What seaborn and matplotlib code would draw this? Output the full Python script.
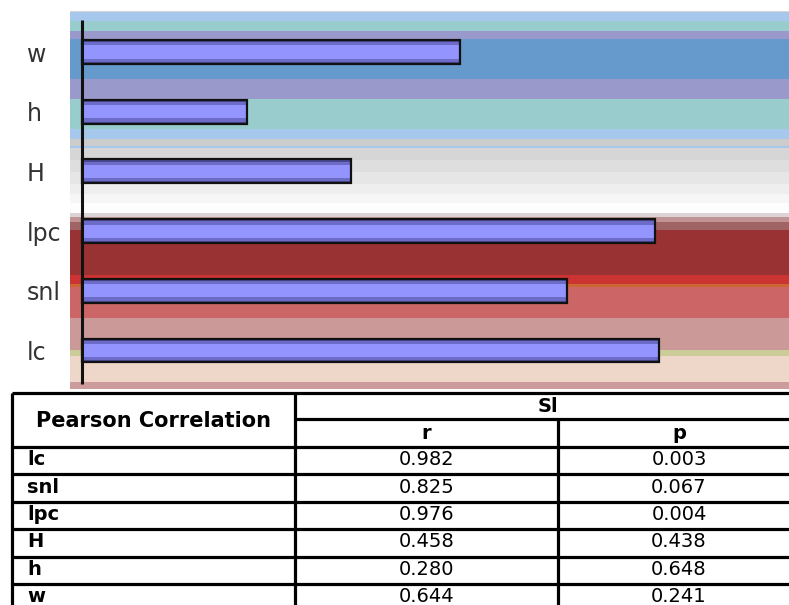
import matplotlib
matplotlib.use("Agg")
import matplotlib.pyplot as plt
import seaborn as sns

# --- dados ---
CATEGORIAS = ["w", "h", "H", "lpc", "snl", "lc"]
VALORES_R = [0.644, 0.280, 0.458, 0.976, 0.825, 0.982]
VALORES_P = [0.241, 0.648, 0.438, 0.004, 0.067, 0.003]
TITULO_TABELA = "Pearson Correlation"
GRUPO_TABELA = "Sl"
COLUNAS_TABELA = ["r", "p"]

# --- estilo ---
sns.set_theme(style="white")
plt.rcParams["font.family"] = ["DejaVu Sans"]
plt.rcParams["text.color"] = "black"

W, H = 789, 605
fig = plt.figure(figsize=(W / 100, H / 100), dpi=100)

# eixo do gráfico de barras (em pixels: x 70..789, y 11..389)
ax = fig.add_axes([70 / W, 1 - 389 / H, 1 - 70 / W, (389 - 11) / H])

# faixas de fundo (pixels da figura -> unidades de categoria)
def py(px):
    return (px - 52) / 59.7

faixas = [
    (11, 12, "#d4d4d4"), (12, 21, "#a6c8ec"), (21, 31, "#99cccc"),
    (31, 39, "#9999cc"), (39, 79, "#6699cc"), (79, 99, "#9999cc"),
    (99, 129, "#99cccc"), (129, 139, "#a6c8ec"), (139, 146, "#cccccc"),
    (146, 148, "#a6c8ec"), (148, 160, "#d6d6d6"), (160, 172, "#dedede"),
    (172, 184, "#e6e6e6"), (184, 194, "#eeeeee"), (194, 203, "#f6f6f6"),
    (203, 213, "#fdfdfd"), (213, 217, "#dcd4d4"), (217, 222, "#c09494"),
    (222, 230, "#a06464"), (230, 275, "#993333"), (275, 284, "#cc3333"),
    (284, 287, "#cc6633"), (287, 318, "#cc6666"), (318, 350, "#cc9999"),
    (350, 356, "#cccc99"), (356, 382, "#eed6c8"), (382, 389, "#cc9c9c"),
]
for topo, base, cor in faixas:
    ax.axhspan(py(topo), py(base), color=cor, lw=0, zorder=0)

# barras com efeito de gradiente (camadas)
sns.barplot(x=VALORES_R, y=CATEGORIAS, orient="h", color="#4a4a90",
            width=0.40, saturation=1, linewidth=0, ax=ax, zorder=2)
sns.barplot(x=VALORES_R, y=CATEGORIAS, orient="h", color="#6c6cc8",
            width=0.33, saturation=1, linewidth=0, ax=ax, zorder=3)
sns.barplot(x=VALORES_R, y=CATEGORIAS, orient="h", color="#9494ff",
            width=0.22, saturation=1, linewidth=0, ax=ax, zorder=4)
ax.barh(range(len(CATEGORIAS)), VALORES_R, height=0.40, fill=False,
        edgecolor="#111111", linewidth=1.6, zorder=5)

ax.vlines(0, py(20), py(384), color="#111111", lw=2.2, zorder=6)

ax.set_xlim(-12 / 587.6, 707 / 587.6)
ax.set_ylim(py(389), py(11))
ax.set_xticks([])
ax.set_xlabel("")
ax.set_ylabel("")
for lado in ["top", "right", "bottom", "left"]:
    ax.spines[lado].set_visible(False)
ax.tick_params(axis="y", length=0, pad=(70 - 27) * 0.72)
for rotulo in ax.get_yticklabels():
    rotulo.set_horizontalalignment("left")
    rotulo.set_fontsize(17)
    rotulo.set_color("#333333")

# --- tabela (eixo em coordenadas de pixel) ---
tab = fig.add_axes([0, 0, 1, (H - 389) / H])
tab.set_xlim(0, W)
tab.set_ylim(H, 389)
tab.axis("off")

lw = 2.3
x_esq, x_div, x_rp, x_dir = 12, 295, 558, 800
y_top, y_meio, y_cab = 393, 419, 447
passo = 27.4

tab.hlines(y_top, x_esq, x_dir, color="black", lw=lw)
tab.hlines(y_meio, x_div, x_dir, color="black", lw=lw)
tab.hlines(y_cab, x_esq, x_dir, color="black", lw=lw)
tab.vlines(x_esq, y_top, H + 5, color="black", lw=lw)
tab.vlines(x_div, y_top, H + 5, color="black", lw=lw)
tab.vlines(x_rp, y_meio, H + 5, color="black", lw=lw)

linhas = list(zip(CATEGORIAS[::-1], VALORES_R[::-1], VALORES_P[::-1]))
for i in range(1, len(linhas)):
    tab.hlines(y_cab + i * passo, x_esq, x_dir, color="black", lw=lw)

fs = 14
tab.text((x_esq + x_div) / 2, 421, TITULO_TABELA, ha="center", va="center",
         fontsize=15, fontweight="bold", color="black")
tab.text((x_div + x_dir) / 2, 406, GRUPO_TABELA, ha="center", va="center",
         fontsize=fs, fontweight="bold", color="black")
tab.text((x_div + x_rp) / 2, 433, COLUNAS_TABELA[0], ha="center", va="center",
         fontsize=fs, fontweight="bold", color="black")
tab.text((x_rp + x_dir) / 2, 433, COLUNAS_TABELA[1], ha="center", va="center",
         fontsize=fs, fontweight="bold", color="black")

for i, (nome, r, p) in enumerate(linhas):
    yc = y_cab + (i + 0.5) * passo - 1
    tab.text(27, yc, nome, ha="left", va="center", fontsize=fs,
             fontweight="bold", color="black")
    tab.text((x_div + x_rp) / 2, yc, f"{r:.3f}", ha="center", va="center",
             fontsize=fs, color="black")
    tab.text((x_rp + x_dir) / 2, yc, f"{p:.3f}", ha="center", va="center",
             fontsize=fs, color="black")

plt.savefig("out.png", dpi=100)
plt.close()
